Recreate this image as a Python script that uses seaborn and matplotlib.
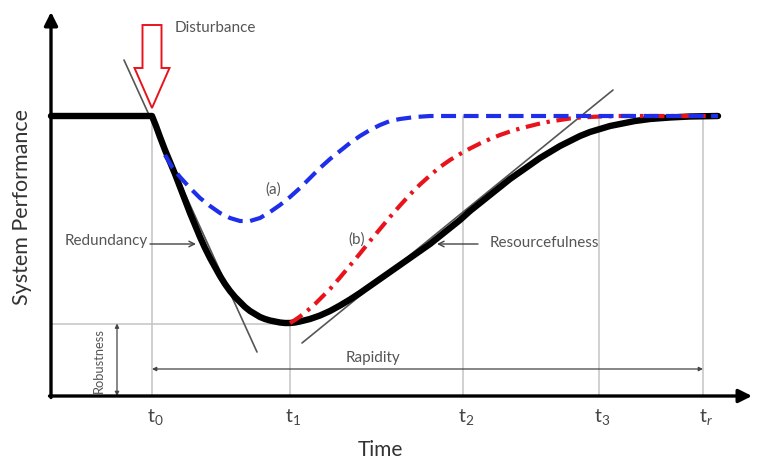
import matplotlib
matplotlib.use("Agg")
import matplotlib.pyplot as plt
from matplotlib.patches import FancyArrow
import seaborn as sns
import pandas as pd

sns.set_style("white")
plt.rcParams['font.family'] = ['Lato', 'DejaVu Sans']
plt.rcParams['mathtext.fontset'] = 'custom'
plt.rcParams['mathtext.rm'] = 'Lato'
plt.rcParams['mathtext.it'] = 'Lato:italic'

# ---- data (time and performance in arbitrary units; nominal performance = 280) ----
time_black = [0, 101, 105, 109, 114, 119, 124, 129, 134, 139, 144, 149, 154, 159, 164,
              169, 174, 179, 184, 189, 194, 199, 204, 209, 214, 219, 224, 229, 234,
              239, 244, 249, 259, 269, 279, 289, 299, 309, 319, 329, 339, 349, 359,
              369, 379, 389, 399, 409, 419, 429, 439, 449, 459, 469, 479, 489, 499,
              509, 519, 529, 539, 549, 559, 569, 584, 599, 619, 639, 667]
perf_black = [280, 280, 270, 259, 246, 234, 222, 209, 196, 183, 171, 159, 148, 138, 129,
              120, 112, 105, 99, 94, 89, 85, 82, 79, 77, 75.5, 74.5, 73.5, 73,
              73, 73.5, 74.5, 77, 80.5, 85, 90.5, 96.5, 103, 110, 117, 124, 131, 138,
              145, 152, 160, 168, 176, 185, 193, 201, 209, 217, 224, 231, 238, 244,
              250, 255, 260, 264, 267, 270, 272, 275, 277, 278.5, 279.5, 280]

time_a = [114, 121, 129, 139, 149, 159, 169, 179, 189, 199, 209, 219, 229, 239, 249,
          259, 269, 279, 289, 299, 309, 319, 329, 339, 349, 364, 379, 399, 667]
perf_a = [241, 229, 219, 208, 198, 190, 183, 178, 175, 175, 178, 184, 191, 199, 208,
          218, 228, 237, 245, 253, 260, 266, 271, 275, 277, 279, 280, 280, 280]

time_b = [239, 244, 249, 254, 259, 264, 269, 279, 289, 299, 309, 319, 329, 339, 349,
          359, 369, 379, 389, 399, 409, 419, 429, 439, 449, 459, 469, 479, 489, 499,
          509, 519, 529, 539, 549, 569, 667]
perf_b = [73, 76, 79.5, 83.5, 87.5, 92, 97, 107, 118.5, 130.5, 142.5, 155, 167, 179,
          190.5, 201.5, 211.5, 220.5, 229, 236, 242, 247.5, 252.5, 257, 261, 264.5,
          267.5, 270, 272.5, 274.5, 276, 277.5, 278.5, 279, 279.5, 280, 280]

tick_times = [101, 239, 412, 548, 652]
tick_labels = [r'$\mathrm{t}_{0}$', r'$\mathrm{t}_{1}$', r'$\mathrm{t}_{2}$',
               r'$\mathrm{t}_{3}$', r'$\mathrm{t}_{r}$']
nominal = 280
robust_level = 72.5

tangent1_t = [73, 206]
tangent1_q = [336, 44]
tangent2_t = [251, 562]
tangent2_q = [53, 306]

# ---- figure ----
fig = plt.figure(figsize=(7.59, 4.65), dpi=100)
ax = fig.add_axes([0, 0, 1, 1])

grey = '#c4c4c4'
for i, t in enumerate(tick_times):
    top = robust_level if i == 1 else nominal
    ax.plot([t, t], [0, top], color=grey, lw=1.1, zorder=1)
ax.plot([0, tick_times[1]], [robust_level, robust_level], color=grey, lw=1.1, zorder=1)

ax.plot(tangent1_t, tangent1_q, color='#555555', lw=1.2, zorder=2)
ax.plot(tangent2_t, tangent2_q, color='#555555', lw=1.2, zorder=2)

df_k = pd.DataFrame({'t': time_black, 'q': perf_black})
df_a = pd.DataFrame({'t': time_a, 'q': perf_a})
df_b = pd.DataFrame({'t': time_b, 'q': perf_b})
sns.lineplot(data=df_k, x='t', y='q', ax=ax, color='black', lw=4.6,
             estimator=None, sort=False, zorder=3)
sns.lineplot(data=df_b, x='t', y='q', ax=ax, color='#e8141c', lw=3.0,
             estimator=None, sort=False, zorder=4)
sns.lineplot(data=df_a, x='t', y='q', ax=ax, color='#1f2ee8', lw=3.0,
             estimator=None, sort=False, zorder=5)
lines = ax.get_lines()
lines[-2].set_dashes([3.5, 1.6, 0.8, 1.6])
lines[-1].set_dashes([3.6, 1.8])
for ln in lines[-3:]:
    ln.set_solid_joinstyle('round')
    ln.set_dash_joinstyle('round')

ax.set_xlim(-51, 708)
ax.set_ylim(-69, 396)
ax.axis('off')

# axes with arrows
ax.annotate('', xy=(701, 0), xytext=(-1.5, 0),
            arrowprops=dict(arrowstyle='-|>', lw=2.4, color='black',
                            mutation_scale=20, shrinkA=0, shrinkB=0), zorder=6)
ax.annotate('', xy=(0, 384), xytext=(0, -1.5),
            arrowprops=dict(arrowstyle='-|>', lw=2.4, color='black',
                            mutation_scale=20, shrinkA=0, shrinkB=0), zorder=6)

for t, lab in zip(tick_times, tick_labels):
    ax.text(t + 3, -21, lab, ha='center', va='center', fontsize=14, color='#444444')

ax.text(329, -54, 'Time', ha='center', va='center', fontsize=15, color='#333333')
ax.text(-29, 189, 'System Performance', ha='center', va='center', rotation=90,
        fontsize=15.5, color='#333333')

# robustness
ax.annotate('', xy=(66, robust_level), xytext=(66, 0),
            arrowprops=dict(arrowstyle='<|-|>', lw=0.9, color='#444444',
                            mutation_scale=6, shrinkA=0, shrinkB=0))
ax.text(48, 36, 'Robustness', rotation=90, ha='center', va='center',
        fontsize=9.3, color='#555555')

# rapidity
ax.annotate('', xy=(tick_times[4], 27), xytext=(tick_times[0], 27),
            arrowprops=dict(arrowstyle='<|-|>', lw=0.9, color='#444444',
                            mutation_scale=6, shrinkA=0, shrinkB=0))
ax.text(322, 38, 'Rapidity', ha='center', va='center', fontsize=11, color='#555555')

# redundancy
ax.text(97, 155, 'Redundancy', ha='right', va='center', fontsize=11, color='#555555')
ax.annotate('', xy=(145, 152), xytext=(99, 152),
            arrowprops=dict(arrowstyle='->', lw=1.0, color='#444444',
                            mutation_scale=10, shrinkA=0, shrinkB=0))
# resourcefulness
ax.text(439, 153, 'Resourcefulness', ha='left', va='center', fontsize=11, color='#555555')
ax.annotate('', xy=(386, 152), xytext=(427, 152),
            arrowprops=dict(arrowstyle='->', lw=1.0, color='#444444',
                            mutation_scale=10, shrinkA=0, shrinkB=0))

ax.text(222, 206, '(a)', ha='center', va='center', fontsize=11, color='#555555')
ax.text(306, 156, '(b)', ha='center', va='center', fontsize=11, color='#555555')

# disturbance arrow
arr = FancyArrow(101, 371, 0, -83, width=19, head_width=35, head_length=40,
                 length_includes_head=True, facecolor='white', edgecolor='#e8141c',
                 lw=1.4, zorder=7)
ax.add_patch(arr)
ax.text(124, 368, 'Disturbance', ha='left', va='center', fontsize=11, color='#555555')

fig.savefig('out.png', dpi=100, facecolor='white')
